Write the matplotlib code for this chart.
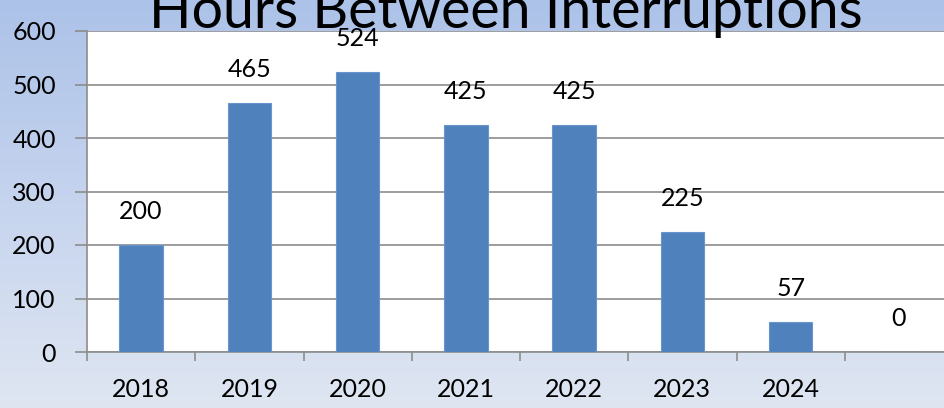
import numpy as np
import matplotlib
matplotlib.use("Agg")
import matplotlib.pyplot as plt
from matplotlib.colors import LinearSegmentedColormap

years = ["2018", "2019", "2020", "2021", "2022", "2023", "2024", ""]
hours = [200, 465, 524, 425, 425, 225, 57, 0]
title = "Hours Between Interruptions"

plt.rcParams['font.family'] = ['Lato', 'DejaVu Sans']

fig = plt.figure(figsize=(9.44, 4.08), dpi=100)

# vertical blue gradient behind the chart
bg = fig.add_axes([0, 0, 1, 1], zorder=-10)
grad = np.linspace(0, 1, 256).reshape(-1, 1)
cmap = LinearSegmentedColormap.from_list("bg", ["#acc2e8", "#c6d4ee", "#dfe6f2"])
bg.imshow(grad, aspect="auto", cmap=cmap, extent=[0, 1, 0, 1], origin="upper")
bg.set_axis_off()

ax = fig.add_axes([87 / 944, 56 / 408, (953 - 87) / 944, (352 - 31) / 408])
ax.set_facecolor("white")
x = np.arange(len(years))
ax.bar(x, hours, width=0.4, color="#4f81bd", edgecolor="#6a95cc", linewidth=0.8, zorder=3)

for xi, v in zip(x, hours):
    ax.annotate(str(v), (xi, v), xytext=(0, 24), textcoords="offset points",
                ha="center", va="center", fontsize=18, color="black", zorder=4)

ax.set_xlim(-0.5, len(years) - 0.5)
ax.set_ylim(0, 600)
ax.set_yticks(range(0, 601, 100))
ax.yaxis.grid(True, color="#8c8c8c", linewidth=1.2, zorder=0)
ax.set_axisbelow(True)

ax.set_xticks(x)
ax.set_xticklabels(years, fontsize=18)
ax.set_xticks(np.arange(-0.5, len(years), 1), minor=True)
ax.tick_params(axis="x", which="major", length=0, pad=19)
ax.tick_params(axis="x", which="minor", length=6.5, color="#8c8c8c", width=1.2)
ax.tick_params(axis="y", length=8.5, color="#8c8c8c", width=1.2, labelsize=18, pad=14)

for side in ("top", "right"):
    ax.spines[side].set_visible(False)
for side in ("left", "bottom"):
    ax.spines[side].set_color("#8c8c8c")
    ax.spines[side].set_linewidth(1.2)

fig.text(506 / 944, 1 - 28 / 408, title, ha="center", va="baseline",
         fontsize=40, color="black")

fig.savefig("out.png", dpi=100)
